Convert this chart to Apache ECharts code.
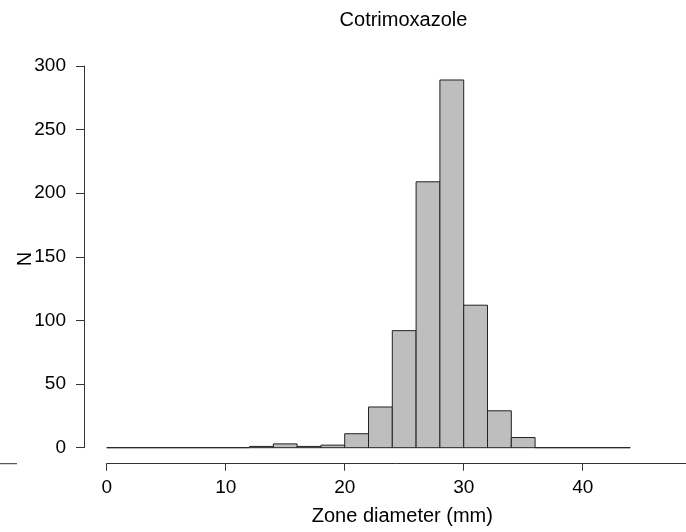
<!DOCTYPE html>
<html>
<head>
<meta charset="utf-8">
<script src="https://cdn.jsdelivr.net/npm/echarts@6/dist/echarts.min.js"></script>
<style>
html,body{margin:0;padding:0;background:#fff;}
#chart{width:686px;height:532px;}
</style>
</head>
<body>
<div id="chart"></div>
<script>
// Histogram bins (mm) and counts
const binStarts = [0, 2, 4, 6, 8, 10, 12, 14, 16, 18, 20, 22, 24, 26, 28, 30, 32, 34, 36, 38, 40, 42];
const binWidth = 2;
const counts = [0, 0, 0, 0, 0, 0, 1, 3, 1, 2, 11, 32, 92, 209, 289, 112, 29, 8, 0, 0, 0, 0];
const xTicks = [0, 10, 20, 30, 40];
const yTicks = [0, 50, 100, 150, 200, 250, 300];
const chartTitle = 'Cotrimoxazole';
const xTitle = 'Zone diameter (mm)';
const yTitle = 'N';

const data = binStarts.map((s, i) => [s, s + binWidth, counts[i]]);
const FONT = 'Liberation Sans, Arial, sans-serif';
const axisCol = '#333';

const chart = echarts.init(document.getElementById('chart'));
chart.setOption({
  animation: false,
  backgroundColor: '#fff',
  title: {
    text: chartTitle,
    left: 398.5, top: 5,
    textAlign: 'center',
    textStyle: {fontFamily: FONT, fontSize: 20, fontWeight: 'normal', color: '#000'}
  },
  grid: {left: 106.7, right: 0, top: 66, bottom: 84.3, containLabel: false, outerBoundsMode: 'none'},
  xAxis: {
    type: 'value', min: 0, max: 48.68,
    offset: 16,
    name: xTitle, nameLocation: 'middle', nameGap: 43, nameMoveOverlap: false,
    nameTextStyle: {fontFamily: FONT, fontSize: 20, color: '#000', padding: [0, 0, 0, 12]},
    axisLine: {show: true, onZero: false, lineStyle: {color: axisCol, width: 1}},
    axisTick: {show: true, length: 7, customValues: xTicks, lineStyle: {color: axisCol}},
    axisLabel: {customValues: xTicks, margin: 15, fontFamily: FONT, fontSize: 19, color: '#000'},
    splitLine: {show: false}
  },
  yAxis: {
    type: 'value', min: 0, max: 300, interval: 50,
    offset: 22.7,
    axisLine: {show: true, onZero: false, lineStyle: {color: axisCol, width: 1}},
    axisTick: {show: true, length: 8, lineStyle: {color: axisCol}},
    axisLabel: {margin: 18, fontFamily: FONT, fontSize: 19, color: '#000'},
    splitLine: {show: false}
  },
  graphic: [{
    type: 'line',
    shape: {x1: 0, y1: 463.7, x2: 17, y2: 463.7},
    style: {stroke: axisCol, lineWidth: 1}
  }, {
    type: 'text',
    x: 25, y: 259,
    rotation: Math.PI / 2,
    style: {text: yTitle, font: '20px ' + FONT, fill: '#000', align: 'center', verticalAlign: 'middle'}
  }],
  series: [{
    type: 'custom',
    data: data,
    encode: {x: [0, 1], y: 2},
    renderItem: function (params, api) {
      const p0 = api.coord([api.value(0), 0]);
      const p1 = api.coord([api.value(1), api.value(2)]);
      return {
        type: 'rect',
        shape: {x: p0[0], y: p1[1], width: p1[0] - p0[0], height: p0[1] - p1[1]},
        style: {fill: '#bebebe', stroke: '#222', lineWidth: 1}
      };
    }
  }]
});
</script>
</body>
</html>
